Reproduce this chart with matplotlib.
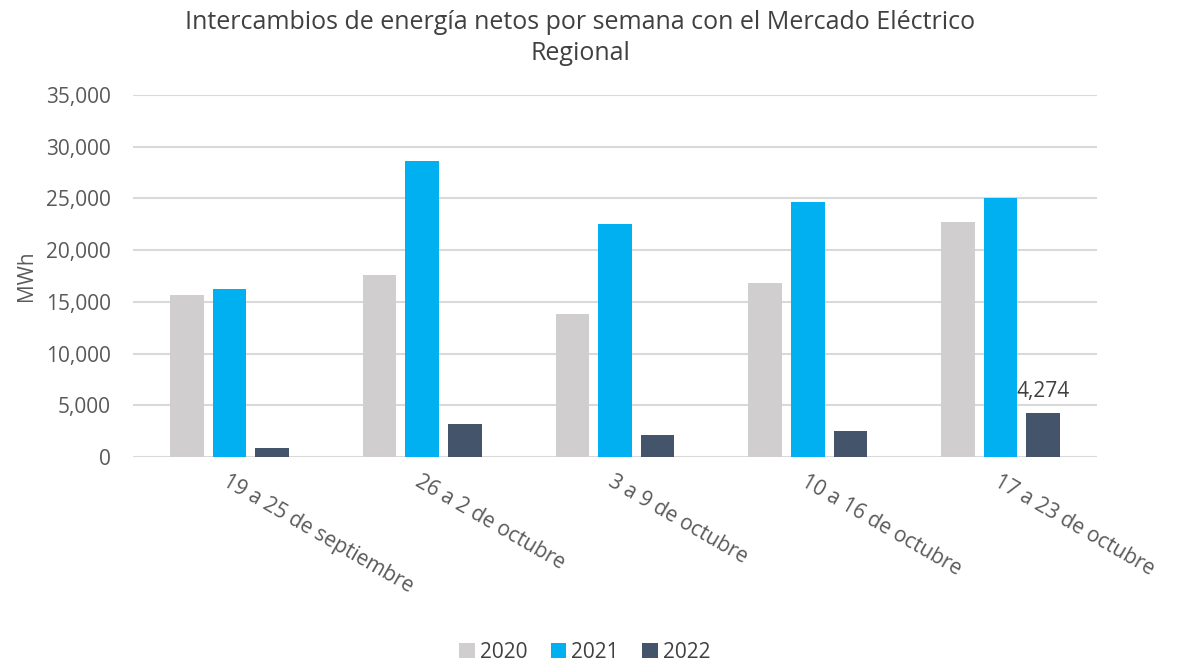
import matplotlib
matplotlib.use("Agg")
import matplotlib.pyplot as plt
import numpy as np

# Weekly net exchanges (MWh)
weeks = ["19 a 25 de septiembre", "26 a 2 de octubre", "3 a 9 de octubre",
         "10 a 16 de octubre", "17 a 23 de octubre"]
years = ["2020", "2021", "2022"]
v2020 = [15710, 17610, 13810, 16800, 22760]
v2021 = [16290, 28650, 22500, 24620, 25050]
v2022 = [900, 3220, 2100, 2550, 4274]
colors = ["#d0cece", "#00b0f0", "#44546a"]

plt.rcParams["font.family"] = ["Open Sans", "DejaVu Sans"]
text_color = "#404040"
tick_color = "#595959"
fs = 15

fig = plt.figure(figsize=(11.79, 6.62), dpi=100)
ax = fig.add_axes([0.1128, 0.3097, 0.8176, 0.5468])

x = np.arange(len(weeks))
step = 0.221
width = 0.174
for i, (vals, yr) in enumerate(zip([v2020, v2021, v2022], years)):
    bars = ax.bar(x + (i - 1) * step, vals, width, color=colors[i], label=yr, zorder=3)

# only the last 2022 bar carries a data label
b = bars[-1]
ax.annotate(f"{v2022[-1]:,}", (b.get_x() + b.get_width() / 2, b.get_height()),
            xytext=(0, 8), textcoords="offset points", ha="center", va="bottom",
            fontsize=fs, color=text_color)

ax.set_xlim(-0.5, len(weeks) - 0.5)
ax.set_ylim(0, 35000)
ax.set_yticks(np.arange(0, 35001, 5000))
ax.yaxis.set_major_formatter(matplotlib.ticker.FuncFormatter(lambda v, p: f"{int(v):,}"))
ax.grid(axis="y", color="#d9d9d9", linewidth=1.5, zorder=0)
for s in ax.spines.values():
    s.set_visible(False)
ax.tick_params(axis="y", length=0, labelsize=fs, colors=tick_color, pad=16)
ax.tick_params(axis="x", length=0, pad=10)
ax.set_xticks(x)
ax.set_xticklabels(weeks, rotation=-30, ha="left", rotation_mode="anchor",
                   fontsize=fs, color=tick_color)
ax.set_ylabel("MWh", fontsize=fs, color=tick_color, labelpad=6)

fig.suptitle("Intercambios de energía netos por semana con el Mercado Eléctrico\nRegional",
             x=0.492, y=0.985, fontsize=18, color=text_color, linespacing=1.3)

fig.legend(loc="lower center", bbox_to_anchor=(0.496, -0.03), ncol=3, frameon=False,
           fontsize=fs, handlelength=0.75, handleheight=0.75, handletextpad=0.25,
           columnspacing=1.1, labelcolor=text_color)

fig.savefig("out.png", dpi=100)
